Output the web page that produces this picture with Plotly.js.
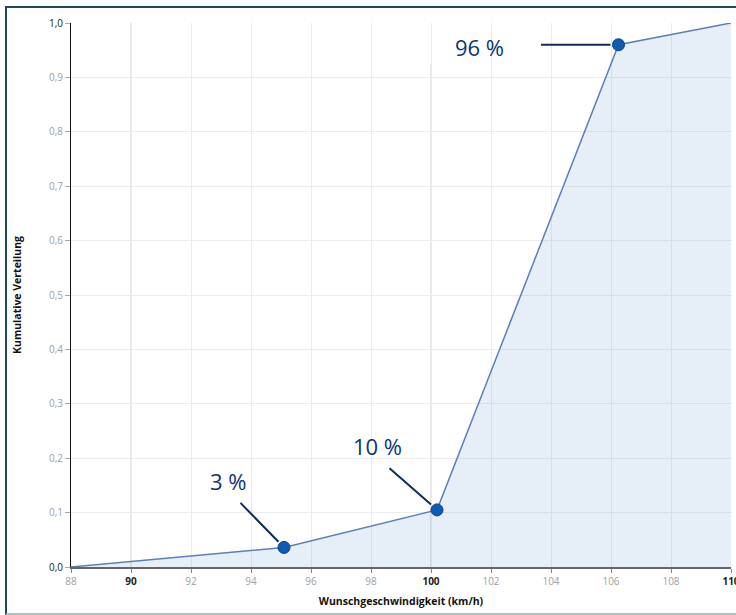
<!DOCTYPE html>
<html>
<head>
<meta charset="utf-8">
<script src="https://cdn.plot.ly/plotly-3.0.1.min.js"></script>
<style>
  html, body { margin: 0; padding: 0; background: #fff; }
  #wrap { position: relative; width: 736px; height: 615px; overflow: hidden; }
  #chart { position: absolute; left: 0; top: 0; width: 736px; height: 615px; }
  #frame { position: absolute; left: 5px; top: 6px; width: 740px; height: 605px;
           border-left: 2px solid #1d4b57; border-top: 2px solid #1d4b57;
           border-bottom: 2px solid #a9c2c3; pointer-events: none; }
</style>
</head>
<body>
<div id="wrap"><div id="chart"></div><div id="frame"></div></div>
<script>
// Data
var speeds = [88, 95.1, 100.2, 106.25, 110];
var cumulative = [0, 0.036, 0.105, 0.96, 1.0];
var markedIdx = [1, 2, 3];
var markLabels = ['3 %', '10 %', '96 %'];

var xTickVals = [88, 90, 92, 94, 96, 98, 100, 102, 104, 106, 108, 110];
var xBold = [90, 100, 110];
var yTickVals = [0, 0.1, 0.2, 0.3, 0.4, 0.5, 0.6, 0.7, 0.8, 0.9, 1.0];
var yTickLabels = ['0,0', '0,1', '0,2', '0,3', '0,4', '0,5', '0,6', '0,7', '0,8', '0,9', '1,0'];
var yBold = [0, 1.0];

var xTickText = xTickVals.map(function (v) {
  return xBold.indexOf(v) >= 0 ? '<span style="color:#222"><b>' + v + '</b></span>' : String(v);
});
var yTickText = yTickVals.map(function (v, i) {
  return yBold.indexOf(v) >= 0 ? '<span style="color:#222">' + yTickLabels[i] + '</span>' : yTickLabels[i];
});

var mx = markedIdx.map(function (i) { return speeds[i]; });
var my = markedIdx.map(function (i) { return cumulative[i]; });

var traces = [
  {
    x: speeds, y: cumulative, type: 'scatter', mode: 'lines',
    line: { color: '#5b80b4', width: 1.5 },
    fill: 'tozeroy', fillcolor: 'rgba(5,85,185,0.1)',
    hoverinfo: 'skip', showlegend: false
  },
  {
    x: mx, y: my, type: 'scatter', mode: 'markers',
    marker: { size: 12, color: '#0b5cb3', line: { color: '#0a3f86', width: 1 } },
    showlegend: false
  }
];

// label offsets (pixels) for text and leader lines
var textShift = [[-56, 66], [-60, 64], [-139, -2]];
var lineOff = [[-45, -46], [-49, -43], [-79, 0]];

var annotations = [];
markedIdx.forEach(function (idx, k) {
  annotations.push({
    x: speeds[idx], y: cumulative[idx], xref: 'x', yref: 'y',
    text: '', showarrow: true, arrowhead: 0, arrowwidth: 2, arrowcolor: '#0b2d60',
    ax: lineOff[k][0], ay: lineOff[k][1], axref: 'pixel', ayref: 'pixel', standoff: 8
  });
  annotations.push({
    x: speeds[idx], y: cumulative[idx], xref: 'x', yref: 'y',
    text: markLabels[k], showarrow: false,
    xshift: textShift[k][0], yshift: textShift[k][1],
    font: { family: 'Open Sans, Noto Sans, sans-serif', size: 22, color: '#0a3477' }
  });
});

var shapes = [
  { type: 'line', xref: 'x', yref: 'y', x0: 90, x1: 90, y0: 0, y1: 1, layer: 'below',
    line: { color: '#cfcfcf', width: 1 } },
  { type: 'line', xref: 'x', yref: 'y', x0: 100, x1: 100, y0: 0, y1: 0.925, layer: 'below',
    line: { color: '#cfcfcf', width: 1 } }
];

var layout = {
  width: 736, height: 615,
  margin: { l: 71, r: 5, t: 23, b: 48 },
  paper_bgcolor: '#ffffff', plot_bgcolor: '#ffffff',
  font: { family: 'Open Sans, Noto Sans, sans-serif', size: 10, color: '#a0a0a0' },
  showlegend: false,
  xaxis: {
    range: [88, 110], tickvals: xTickVals, ticktext: xTickText,
    ticklabeloverflow: 'allow',
    showgrid: true, gridcolor: '#ececec', gridwidth: 1,
    zeroline: false, showline: true, linecolor: '#666', linewidth: 2,
    ticks: 'outside', ticklen: 4, tickcolor: '#888', tickwidth: 1,
    tickfont: { size: 10, color: '#a0a0a0' },
    title: { text: '<b>Wunschgeschwindigkeit (km/h)</b>', standoff: 11,
             font: { family: 'Open Sans, Noto Sans, sans-serif', size: 10.5, color: '#111' } },
    fixedrange: true
  },
  yaxis: {
    range: [0, 1], tickvals: yTickVals, ticktext: yTickText,
    ticklabeloverflow: 'allow',
    showgrid: true, gridcolor: '#ececec', gridwidth: 1,
    zeroline: false, showline: true, linecolor: '#111', linewidth: 1,
    ticks: 'outside', ticklen: 5, tickcolor: '#aaa', tickwidth: 1,
    tickfont: { size: 10, color: '#a0a0a0' },
    title: { text: '<b>Kumulative Verteilung</b>', standoff: 25,
             font: { family: 'Open Sans, Noto Sans, sans-serif', size: 10.5, color: '#111' } },
    fixedrange: true
  },
  annotations: annotations,
  shapes: shapes
};

Plotly.newPlot('chart', traces, layout, { displayModeBar: false, staticPlot: true });
</script>
</body>
</html>
